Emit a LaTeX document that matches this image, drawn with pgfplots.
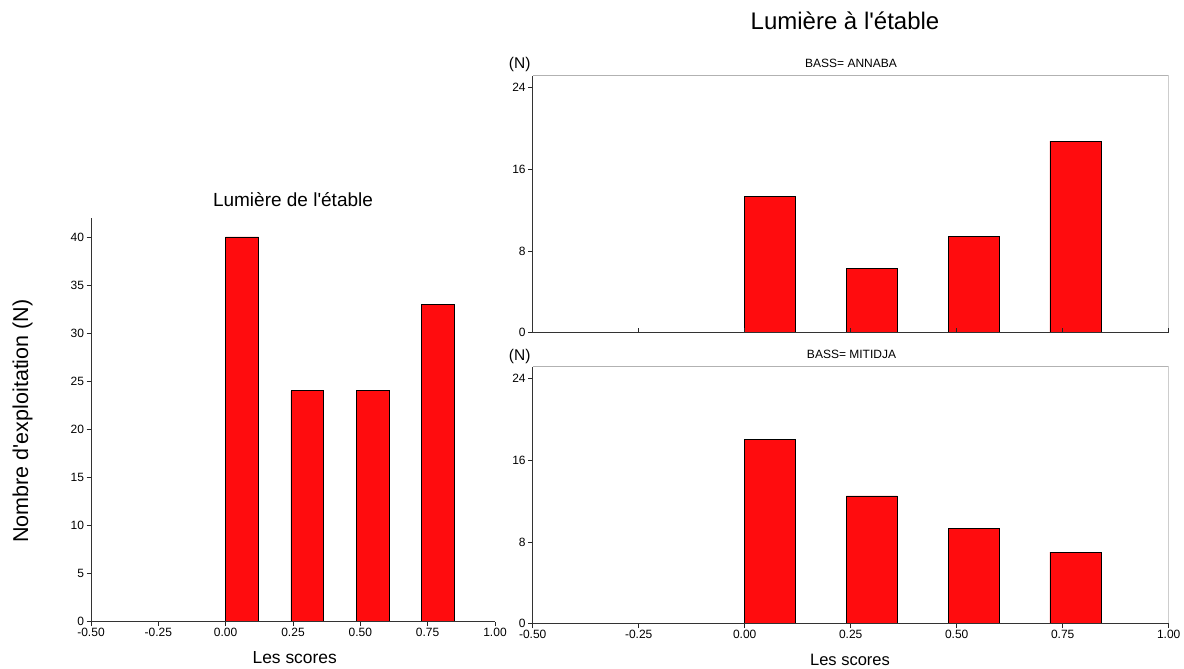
\documentclass[border=0pt]{standalone}
\usepackage{pgfplots}
\pgfplotsset{compat=1.18}
\usepackage{fontspec}
\setmainfont{Liberation Sans}[Ligatures=TeXOff]
\definecolor{barred}{RGB}{255,12,14}

\begin{document}
\begin{tikzpicture}
\path[use as bounding box] (0pt,0pt) rectangle (1184pt,-669pt);
\pgfplotsset{
  myax/.style={
    scale only axis,
    /pgf/number format/assume math mode=true,
    tick label style={font=\fontsize{12}{13}\selectfont},
    xmin=-0.5, xmax=1.0,
    xtick={-0.5,-0.25,0,0.25,0.5,0.75,1.0},
    xticklabels={-0.50,-0.25,0.00,0.25,0.50,0.75,1.00},
    major tick length=4.5pt,
    tick style={black!85, line width=0.6pt},
    axis line style={line width=0.9pt, black!80},
    axis x line*=bottom, axis y line*=left,
    ytick align=outside,
    ybar, ymin=0,
    yticklabel style={xshift=1pt},
    xticklabel style={yshift=1.5pt},
    axis on top,
  },
  mybar/.style={fill=barred, draw=black, line width=0.7pt},
}

% Left axis
\begin{axis}[myax, at={(91pt,-621.7pt)}, anchor=south west,
  width=404pt, height=404pt, ymax=42, ytick={0,5,...,40},
  xtick align=outside, bar width=0.122]
\addplot[mybar] coordinates {(0.0613,40) (0.3035,24) (0.5455,24) (0.788,33)};
\end{axis}

% Right top axis: ANNABA
\begin{axis}[myax, at={(532.7pt,-332.7pt)}, anchor=south west,
  width=636pt, height=257pt, ymax=25.15, ytick={0,8,16,24},
  xtick align=inside, xticklabels={}, bar width=0.12]
\addplot[mybar] coordinates {(0.06,13.3) (0.30,6.3) (0.54,9.4) (0.78,18.75)};
\draw[gray!60, line width=0.9pt] (rel axis cs:0,1) -- (rel axis cs:1,1) -- (rel axis cs:1,0);
\end{axis}

% Right bottom axis: MITIDJA
\begin{axis}[myax, at={(532.7pt,-623.7pt)}, anchor=south west,
  width=636pt, height=257pt, ymax=25.15, ytick={0,8,16,24},
  xtick align=outside, bar width=0.12]
\addplot[mybar] coordinates {(0.06,18) (0.30,12.5) (0.54,9.33) (0.78,7)};
\draw[gray!60, line width=0.9pt] (rel axis cs:0,1) -- (rel axis cs:1,1) -- (rel axis cs:1,0);
\end{axis}

% Texts
\node[anchor=base, font=\fontsize{24}{27}\selectfont, inner sep=0] at (845pt,-29.5pt) {Lumière à l'étable};
\node[anchor=base, font=\fontsize{19}{22}\selectfont, inner sep=0] at (293pt,-206.5pt) {Lumière de l'étable};
\node[anchor=base, rotate=90, font=\fontsize{21.5}{24}\selectfont, inner sep=0] at (28pt,-421pt) {Nombre d'exploitation (N)};
\node[anchor=base, font=\fontsize{17.4}{20}\selectfont, inner sep=0] at (294.7pt,-663pt) {Les scores};
\node[anchor=base, font=\fontsize{16.5}{20}\selectfont, inner sep=0] at (850pt,-665pt) {Les scores};
\node[anchor=base, font=\fontsize{15.5}{18}\selectfont, inner sep=0] at (519.7pt,-68.3pt) {(N)};
\node[anchor=base, font=\fontsize{15.5}{18}\selectfont, inner sep=0] at (519.7pt,-360pt) {(N)};
\node[anchor=base, font=\fontsize{12}{14}\selectfont, inner sep=0] at (851pt,-67pt) {BASS= ANNABA};
\node[anchor=base, font=\fontsize{12}{14}\selectfont, inner sep=0] at (851.5pt,-358.3pt) {BASS= MITIDJA};
\end{tikzpicture}
\end{document}
